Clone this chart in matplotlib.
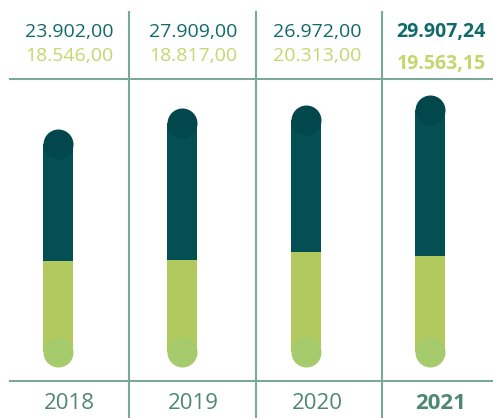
import matplotlib.pyplot as plt
import numpy as np

plt.rcParams['font.family'] = ['Open Sans', 'DejaVu Sans']

years = ["2018", "2019", "2020", "2021"]
dark_values = [23902.00, 27909.00, 26972.00, 29907.24]
light_values = [18546.00, 18817.00, 20313.00, 19563.15]
dark_labels = ["23.902,00", "27.909,00", "26.972,00", "29.907,24"]
light_labels = ["18.546,00", "18.817,00", "20.313,00", "19.563,15"]
bold_year = "2021"

dark_bar = "#044f54"
dark_cap = "#02474b"
light_bar = "#b1c95f"
light_cap = "#a6cb6d"
dark_text = "#106a6c"
light_text = "#c6d66f"
year_text = "#4e8873"
grid_color = "#7ba898"

W, H = 493, 418
fig = plt.figure(figsize=(W / 100, H / 100), dpi=100)
ax = fig.add_axes([0, 0, 1, 1])

# pixel layout: column centres at 69 + 124*i, bar baseline at y=352, 0.0049 px per unit
px_per_unit = 0.0049
ax.set_xlim(-69 / 124, (W - 69) / 124)
ax.set_ylim(-(H - 352) / px_per_unit, 352 / px_per_unit)
ax.axis("off")

x = np.arange(len(years))
bx = x - 0.09
bw = 30 / 124
light = np.array(light_values)
dark = np.array(dark_values)

ax.bar(bx, light, width=bw, color=light_bar, zorder=2)
ax.bar(bx, dark, bottom=light, width=bw, color=dark_bar, zorder=2)
cap_s = (30 * 72 / 100) ** 2
ax.scatter(bx, np.zeros_like(light), s=cap_s, color=light_cap, linewidths=0, zorder=3)
ax.scatter(bx, light + dark, s=cap_s, color=dark_cap, linewidths=0, zorder=3)

# grid lines (separator pixels 129, 256, 382)
for px in (129, 256, 382):
    ax.axvline((px - 69) / 124, ymin=0, ymax=1 - 12 / H, color=grid_color, lw=1.5, zorder=1)
for py in (79.3, 381):
    ax.plot([10 / W, 1], [1 - py / H, 1 - py / H], transform=ax.transAxes,
            color=grid_color, lw=1.5, zorder=1)

for i, year in enumerate(years):
    bold = year == bold_year
    fw = "bold" if bold else "normal"
    ax.text(x[i], 1 - 37 / H, dark_labels[i], transform=ax.get_xaxis_transform(),
            ha="center", va="baseline", fontsize=14, color=dark_text, fontweight=fw)
    ly = 69 if bold else 61
    ax.text(x[i], 1 - ly / H, light_labels[i], transform=ax.get_xaxis_transform(),
            ha="center", va="baseline", fontsize=14, color=light_text, fontweight=fw)
    ax.text(x[i], 1 - 409 / H, year, transform=ax.get_xaxis_transform(),
            ha="center", va="baseline", fontsize=16, color=year_text, fontweight=fw)

fig.savefig("out.png", dpi=100)
